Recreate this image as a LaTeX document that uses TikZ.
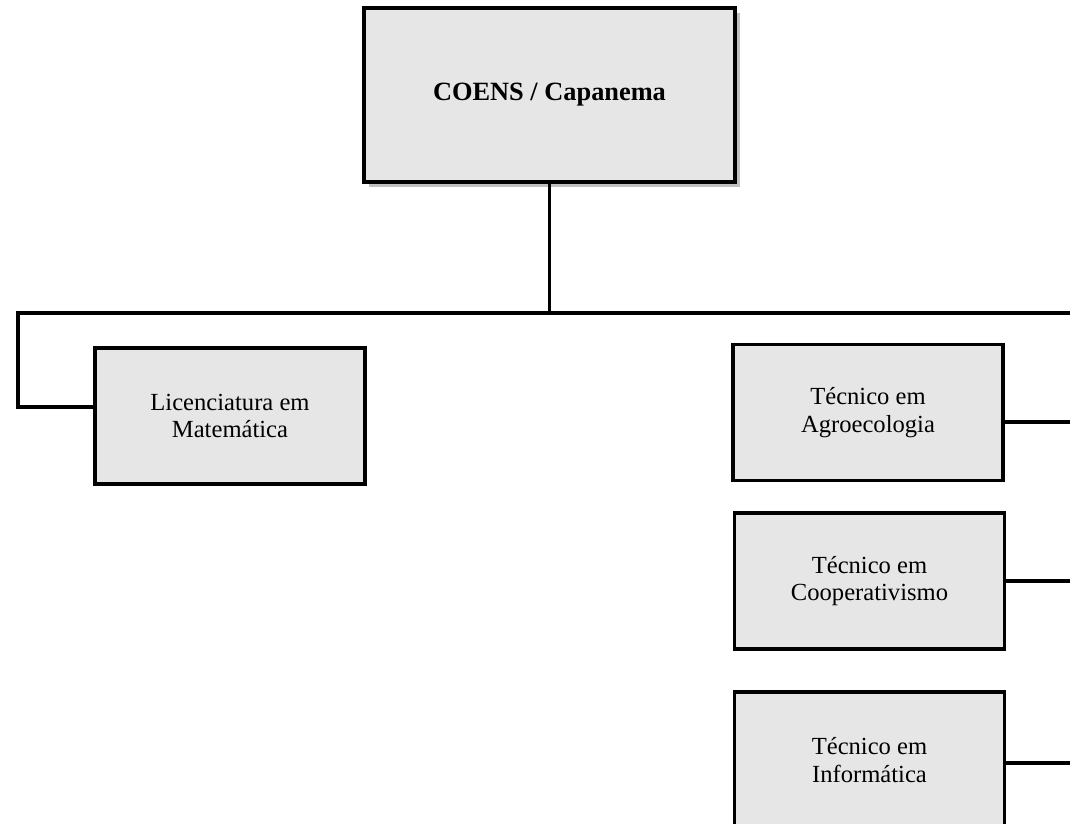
\documentclass[tikz,border=0pt]{standalone}
\usepackage{fontspec}
\setmainfont{Liberation Serif}
\usetikzlibrary{shadows}
\definecolor{boxgray}{RGB}{230,230,230}
\definecolor{shadowgray}{RGB}{192,192,192}
\begin{document}
\begin{tikzpicture}[x=0.02cm, y=-0.02cm,
  box/.style={rectangle, draw, line width=2.2pt, fill=boxgray, align=center, minimum width=5.4cm, minimum height=2.72cm, font=\fontsize{14}{15.6}\selectfont},
  link/.style={line width=2pt}]
\clip (0,0) rectangle (1070,823);
\node[box, minimum width=7.42cm, minimum height=3.48cm, font=\fontsize{15}{18}\selectfont\bfseries, drop shadow={shadow xshift=0.1cm, shadow yshift=-0.1cm, fill=shadowgray, opacity=1}] (coens) at (549.5,95){COENS / Capanema};
\node[box] (lic) at (230,416){Licenciatura em\\Matemática};
\node[box] (agro) at (868,412.5){Técnico em\\Agroecologia};
\node[box] (coop) at (869.5,581){Técnico em\\Cooperativismo};
\node[box] (info) at (869.5,760){Técnico em\\Informática};
\coordinate (hub) at (549.5,313);
\coordinate (busL) at (18,313);
\coordinate (busR) at (1080,313);
\draw[link] (coens) -- (hub);
\draw[link] (busR) -- (busL) -- ([yshift=0.18cm]lic.west -| busL) -- ([yshift=0.18cm]lic.west);
\draw[link] (busR) -- (busR |- info.east);
\draw[link] ([yshift=-0.19cm]agro.east) -- ([yshift=-0.19cm]agro.east -| busR);
\draw[link] (coop.east) -- (coop.east -| busR);
\draw[link] ([yshift=-0.06cm]info.east) -- ([yshift=-0.06cm]info.east -| busR);
\end{tikzpicture}
\end{document}
